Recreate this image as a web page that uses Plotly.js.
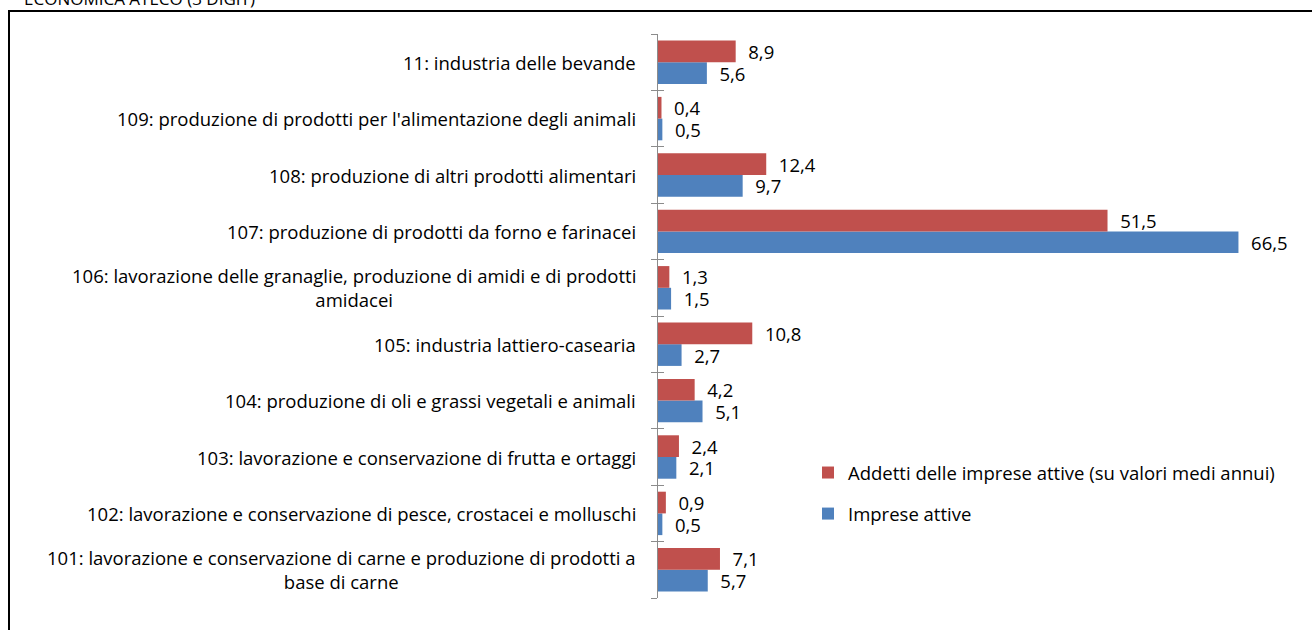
<!DOCTYPE html>
<html>
<head>
<meta charset="utf-8">
<script src="https://cdn.plot.ly/plotly-3.0.1.min.js"></script>
<style>
html,body{margin:0;padding:0;background:#fff;overflow:hidden;}
#chart{width:1312px;height:630px;position:absolute;left:0;top:0;}
#frame{position:absolute;left:8px;top:10px;width:1400px;height:700px;border:2px solid #000;box-sizing:border-box;pointer-events:none;}
</style>
</head>
<body>
<div id="chart"></div>
<div id="frame"></div>
<script>
// Categories (bottom to top)
const categories = [
  "101: lavorazione e conservazione di carne e produzione di prodotti a<br>base di carne",
  "102: lavorazione e conservazione di pesce, crostacei e molluschi",
  "103: lavorazione e conservazione di frutta e ortaggi",
  "104: produzione di oli e grassi vegetali e animali",
  "105: industria lattiero-casearia",
  "106: lavorazione delle granaglie, produzione di amidi e di prodotti<br>amidacei",
  "107: produzione di prodotti da forno e farinacei",
  "108: produzione di altri prodotti alimentari",
  "109: produzione di prodotti per l'alimentazione degli animali",
  "11: industria delle bevande"
];
const addetti = [7.1, 0.9, 2.4, 4.2, 10.8, 1.3, 51.5, 12.4, 0.4, 8.9];
const imprese = [5.7, 0.5, 2.1, 5.1, 2.7, 1.5, 66.5, 9.7, 0.5, 5.6];
const seriesNames = ["Imprese attive", "Addetti delle imprese attive (su valori medi annui)"];
const titleText = "ECONOMICA ATECO (3 DIGIT)";

const FONT = "'Open Sans', 'Noto Sans', sans-serif";
const FS = 18.5;

const common = {
  type: 'bar', orientation: 'h', y: categories,
  textposition: 'outside', constraintext: 'none', cliponaxis: false,
  texttemplate: '\u00a0\u00a0%{x:.1f}',
  textfont: {family: FONT, size: FS, color: '#000'},
  hoverinfo: 'x+y'
};
const traces = [
  Object.assign({}, common, {x: imprese, name: seriesNames[0], marker: {color: '#4F81BD'}, legendgroup: 'b', legendrank: 2}),
  Object.assign({}, common, {x: addetti, name: seriesNames[1], marker: {color: '#C0504D'}, legendgroup: 'a', legendrank: 1}),
  {type: 'scatter', x: [null], y: [null], yaxis: 'y2', showlegend: false, hoverinfo: 'skip'}
];

const boundaries = [];
for (let i = 0; i <= categories.length; i++) boundaries.push(i - 0.5);

const annotations = categories.map(c => ({
  xref: 'paper', yref: 'y', x: 0, y: c, xanchor: 'right', yanchor: 'middle',
  xshift: -20, text: c, showarrow: false, align: 'center',
  font: {family: FONT, size: FS, color: '#000'}
}));
annotations.push({
  xref: 'paper', yref: 'paper', x: (22 - 658) / 611, y: 1 + 36 / 564, xanchor: 'left', yanchor: 'middle',
  text: titleText, showarrow: false, font: {family: FONT, size: 17, color: '#000'}
});

const layout = {
  width: 1312, height: 630,
  margin: {l: 658, r: 43, t: 34, b: 32},
  paper_bgcolor: 'rgba(0,0,0,0)', plot_bgcolor: 'rgba(0,0,0,0)',
  separators: ',.',
  barmode: 'group', bargap: 0.23, bargroupgap: 0,
  font: {family: FONT, size: FS, color: '#000'},
  xaxis: {range: [0, 70], visible: false, fixedrange: true},
  yaxis: {type: 'category', categoryorder: 'array', categoryarray: categories, range: [-0.5, categories.length - 0.5],
          showticklabels: false, showgrid: false, zeroline: false,
          showline: true, linecolor: '#8c8c8c', linewidth: 1,
          ticks: 'outside', tickson: 'boundaries', ticklen: 6, tickcolor: '#8c8c8c', tickwidth: 1},
  yaxis2: {overlaying: 'y', side: 'left', range: [-0.5, categories.length - 0.5], tickmode: 'array', tickvals: boundaries,
           showticklabels: false, showgrid: false, zeroline: false, showline: false,
           ticks: 'inside', ticklen: 6, tickcolor: '#8c8c8c', tickwidth: 1},
  showlegend: true,
  legend: {traceorder: 'grouped', tracegroupgap: 14, x: (808 - 658) / 611, xanchor: 'left',
           y: 1 - (454 - 34) / 564, yanchor: 'top', bgcolor: 'rgba(0,0,0,0)',
           font: {family: FONT, size: FS, color: '#000'}, itemclick: false},
  annotations: annotations
};

Plotly.newPlot('chart', traces, layout, {displayModeBar: false});
</script>
</body>
</html>
